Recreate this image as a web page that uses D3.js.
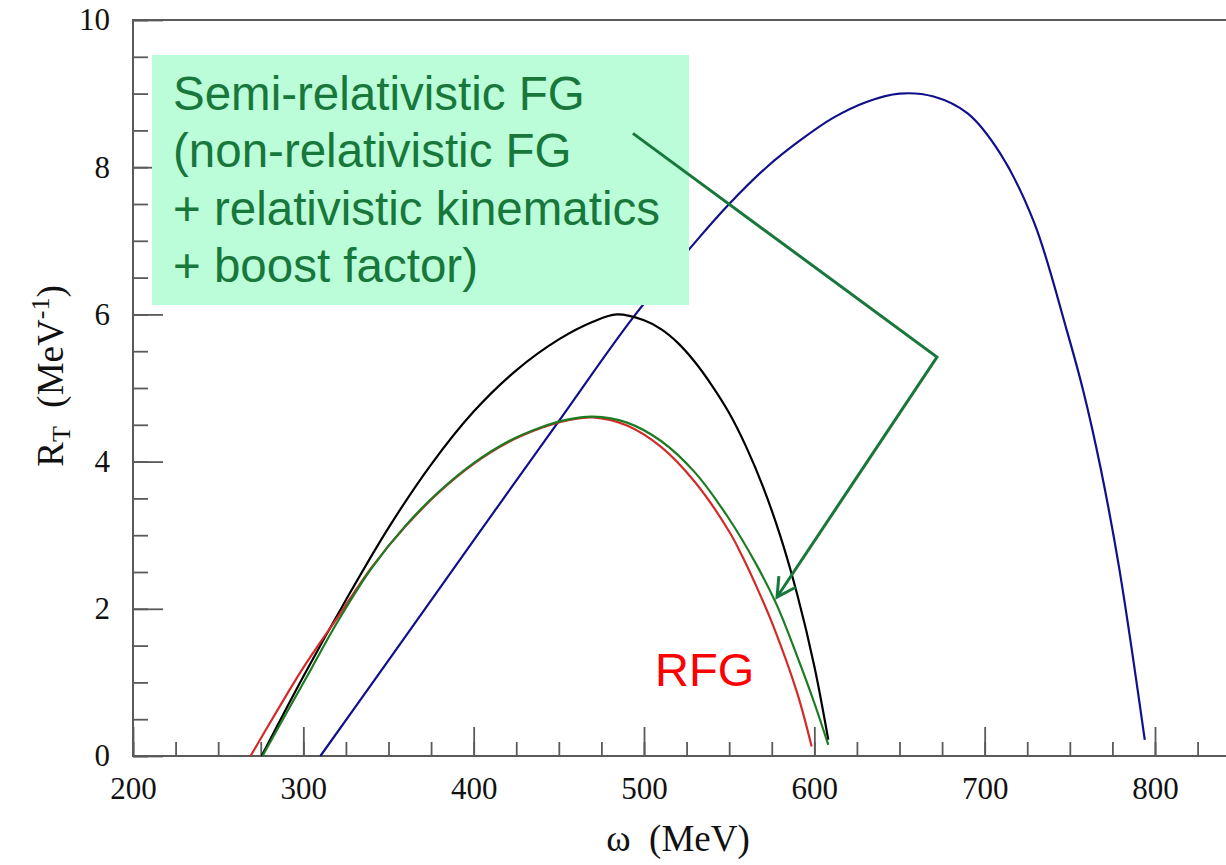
<!DOCTYPE html>
<html>
<head>
<meta charset="utf-8">
<script src="https://cdn.jsdelivr.net/npm/d3@7"></script>
<style>
  body { margin: 0; background: #fff; overflow: hidden; }
  text { white-space: pre; }
</style>
</head>
<body>
<svg></svg>
<script>
// curves: omega (MeV) and R_T (MeV^-1)
var blackOmega = [275.5, 300, 325, 350, 375, 400, 425, 450, 470, 484, 500, 510, 520, 530, 540, 550, 560, 570, 580, 590, 600, 608.2];
var blackRT = [0, 1.08, 2.12, 3.1, 3.96, 4.68, 5.24, 5.66, 5.9, 6.0, 5.92, 5.8, 5.61, 5.35, 5.03, 4.66, 4.2, 3.65, 2.99, 2.19, 1.22, 0.22];

var redOmega = [269, 285, 300, 320, 340, 360, 380, 400, 420, 440, 455, 470, 490, 510, 530, 550, 558, 568, 576, 590, 598.4];
var redRT = [0, 0.63, 1.2, 1.88, 2.56, 3.12, 3.59, 3.97, 4.26, 4.46, 4.56, 4.6, 4.49, 4.2, 3.72, 3.05, 2.7, 2.2, 1.76, 0.85, 0.13];

var greenOmega = [276, 290, 305, 320, 340, 360, 380, 400, 420, 440, 455, 470, 490, 510, 530, 550, 566, 578, 590, 600, 608.2];
var greenRT = [0, 0.58, 1.2, 1.82, 2.55, 3.13, 3.6, 3.98, 4.27, 4.47, 4.57, 4.61, 4.53, 4.28, 3.85, 3.22, 2.6, 2.05, 1.35, 0.72, 0.15];

var blueOmega = [310, 350, 400, 450, 494, 533, 550, 572, 592, 611, 631, 650, 670, 690, 709, 729, 748, 758, 768, 779, 794];
var blueRT = [0, 1.3, 2.93, 4.55, 5.97, 7.06, 7.5, 8.0, 8.37, 8.67, 8.89, 9.0, 8.96, 8.73, 8.19, 7.25, 5.8, 4.95, 3.92, 2.55, 0.22];

var xMajor = [200, 300, 400, 500, 600, 700, 800];
var yMajor = [0, 2, 4, 6, 8, 10];

var noteLines = ["Semi-relativistic FG", "(non-relativistic FG", "+ relativistic kinematics", "+ boost factor)"];
// arrow path in data units (omega, R_T)
var arrowOmega = [493.5, 672, 578.1];
var arrowRT = [8.46, 5.42, 2.16];

var width = 1226;
var height = 865;

var svg = d3.select("svg")
  .attr("width", width)
  .attr("height", height)
  .style("font-family", "'Liberation Serif', 'Times New Roman', serif");

var x = d3.scaleLinear().domain([200, 800]).range([133, 1155]);
var y = d3.scaleLinear().domain([0, 10]).range([756, 20]);

var axisColor = "#5a5a5a";

// minor ticks
svg.append("g")
  .attr("transform", `translate(0, ${y(0)})`)
  .call(d3.axisBottom(x).tickValues(d3.range(200, 826, 25)).tickSize(-14).tickFormat(""))
  .call((g) => g.select(".domain").remove());

svg.append("g")
  .attr("transform", `translate(${x(200)}, 0)`)
  .call(d3.axisLeft(y).tickValues(d3.range(0, 10.01, 0.5)).tickSize(-15).tickFormat(""))
  .call((g) => g.select(".domain").remove());

// major ticks + labels
svg.append("g")
  .attr("transform", `translate(0, ${y(0)})`)
  .call(d3.axisBottom(x).tickValues(xMajor).tickSize(-29).tickPadding(21))
  .call((g) => g.select(".domain").remove());

svg.append("g")
  .attr("transform", `translate(${x(200)}, 0)`)
  .call(d3.axisLeft(y).tickValues(yMajor).tickSize(-30).tickPadding(23))
  .call((g) => g.select(".domain").remove());

svg.selectAll(".tick line").attr("stroke", axisColor).attr("stroke-width", 1.8);
svg.selectAll(".tick text")
  .attr("fill", "#111")
  .style("font-size", "31px")
  .style("font-family", "'Liberation Serif', 'Times New Roman', serif");

// frame: left, bottom, top (right side runs past the picture)
svg.append("path")
  .attr("d", `M${width},${y(10)}H${x(200)}V${y(0)}H${width}`)
  .attr("fill", "none")
  .attr("stroke", axisColor)
  .attr("stroke-width", 2);

// curves
var line = d3.line()
  .x((d) => x(d[0]))
  .y((d) => y(d[1]))
  .curve(d3.curveCatmullRom.alpha(0.5));

var series = [
  { omega: blueOmega, rt: blueRT, color: "#10108a" },
  { omega: blackOmega, rt: blackRT, color: "#000000" },
  { omega: redOmega, rt: redRT, color: "#d42a2a" },
  { omega: greenOmega, rt: greenRT, color: "#1c7c22" }
];

svg.append("g")
  .selectAll("path")
  .data(series)
  .enter()
  .append("path")
  .attr("fill", "none")
  .attr("stroke", (d) => d.color)
  .attr("stroke-width", 2.2)
  .attr("d", (d) => line(d.omega.map((w, i) => [w, d.rt[i]])));

// axis titles
svg.append("text")
  .attr("x", 678)
  .attr("y", 851)
  .attr("text-anchor", "middle")
  .attr("fill", "#111")
  .style("font-size", "37px")
  .text("ω  (MeV)");

var ylab = svg.append("text")
  .attr("transform", "translate(63, 376) rotate(-90)")
  .attr("text-anchor", "middle")
  .attr("fill", "#111")
  .style("font-size", "37px");
ylab.append("tspan").text("R");
ylab.append("tspan").attr("dy", 7).style("font-size", "26px").text("T");
ylab.append("tspan").attr("dy", -7).text("  (MeV");
ylab.append("tspan").attr("dy", -14).style("font-size", "26px").text("-1");
ylab.append("tspan").attr("dy", 14).text(")");

// annotation box
var noteGreen = "#18773b";
svg.append("rect")
  .attr("x", 152)
  .attr("y", 55)
  .attr("width", 537)
  .attr("height", 250)
  .attr("fill", "#bbfcd9");

svg.append("g")
  .selectAll("text")
  .data(noteLines)
  .enter()
  .append("text")
  .attr("x", 173)
  .attr("y", (d, i) => 110 + i * 57.4)
  .attr("fill", noteGreen)
  .style("font-family", "'Liberation Sans', Arial, sans-serif")
  .style("font-size", "47.5px")
  .text((d) => d);

// arrow to the green curve
var arrowPts = arrowOmega.map((w, i) => [x(w), y(arrowRT[i])]);
svg.append("path")
  .attr("d", d3.line()(arrowPts))
  .attr("fill", "none")
  .attr("stroke", noteGreen)
  .attr("stroke-width", 3);

var tip = arrowPts[2];
var prev = arrowPts[1];
var ang = Math.atan2(tip[1] - prev[1], tip[0] - prev[0]);
var headLen = 21;
var spread = 0.5;
var headPts = [
  [tip[0] - headLen * Math.cos(ang - spread), tip[1] - headLen * Math.sin(ang - spread)],
  tip,
  [tip[0] - headLen * Math.cos(ang + spread), tip[1] - headLen * Math.sin(ang + spread)]
];
svg.append("path")
  .attr("d", d3.line()(headPts))
  .attr("fill", "none")
  .attr("stroke", noteGreen)
  .attr("stroke-width", 3);

// RFG label
svg.append("text")
  .attr("x", 655)
  .attr("y", 686)
  .attr("fill", "#ff0000")
  .style("font-family", "'Liberation Sans', Arial, sans-serif")
  .style("font-size", "47px")
  .text("RFG");
</script>
</body>
</html>
